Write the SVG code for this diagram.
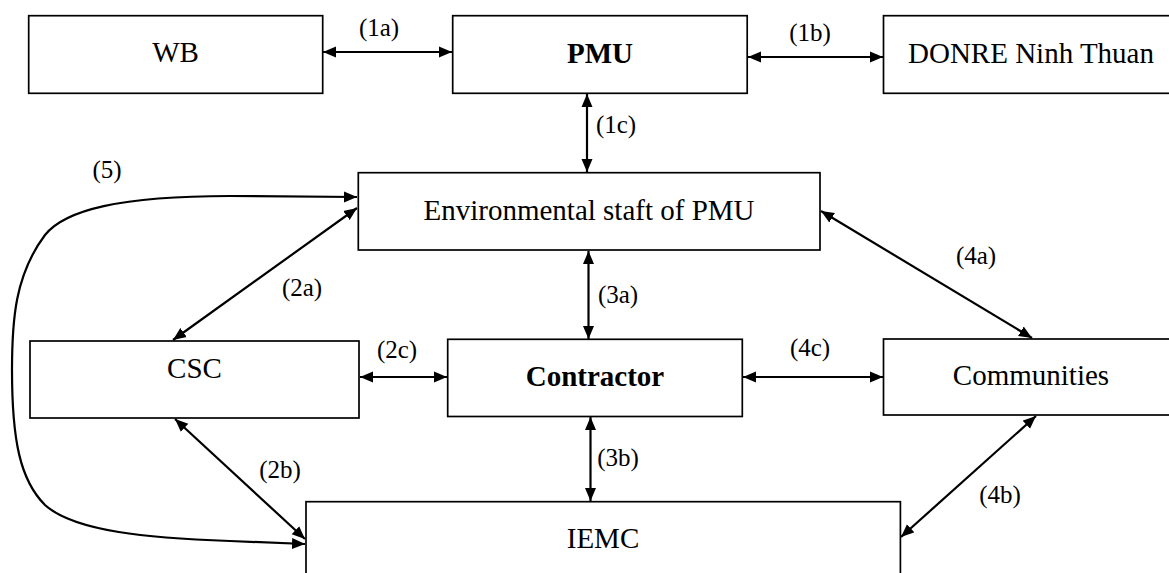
<svg xmlns="http://www.w3.org/2000/svg" width="1169" height="573" viewBox="0 0 1169 573">
<style>
.box{fill:#fff;stroke:#000;stroke-width:1.7}
text{font-family:'Liberation Serif','Times New Roman',serif;text-anchor:middle;fill:#000}
.t{font-size:29px}
.b{font-weight:bold}
.lbl{font-size:25px}
.c{fill:none;stroke:#000;stroke-width:2.2;marker-start:url(#ah);marker-end:url(#ah)}
</style>
<defs>
<marker id="ah" markerUnits="userSpaceOnUse" markerWidth="14" markerHeight="12" refX="13" refY="6" orient="auto-start-reverse" viewBox="0 0 14 12">
<path d="M0,0.5 L13,6 L0,11.5 z" fill="#000"/>
</marker>
</defs>
<rect width="1169" height="573" fill="#fff"/>
<g id="connectors">
<line class="c" x1="323" y1="52" x2="452" y2="52"/>
<line class="c" x1="748" y1="57" x2="883" y2="57"/>
<line class="c" x1="587" y1="94" x2="587" y2="172"/>
<line class="c" x1="588.5" y1="251" x2="588.5" y2="339"/>
<line class="c" x1="590.5" y1="417" x2="590.5" y2="501"/>
<line class="c" x1="360" y1="377" x2="447" y2="377"/>
<line class="c" x1="743" y1="377" x2="883" y2="377"/>
<line class="c" x1="357" y1="208" x2="173" y2="340"/>
<line class="c" x1="175" y1="419" x2="305" y2="539"/>
<line class="c" x1="821" y1="211" x2="1032" y2="338"/>
<line class="c" x1="1036" y1="416" x2="901" y2="537"/>
<path class="c" d="M 357,197 L 230,196 C 120,196 65,210 45,235 C 15,275 12,320 12,370 C 12,440 20,480 45,505 C 75,532 150,538 230,541 L 305,544"/>
<text class="lbl" x="379" y="36">(1a)</text>
<text class="lbl" x="810" y="41">(1b)</text>
<text class="lbl" x="616" y="133">(1c)</text>
<text class="lbl" x="107" y="178">(5)</text>
<text class="lbl" x="302" y="296">(2a)</text>
<text class="lbl" x="618" y="303">(3a)</text>
<text class="lbl" x="976" y="264">(4a)</text>
<text class="lbl" x="397" y="358">(2c)</text>
<text class="lbl" x="810" y="356">(4c)</text>
<text class="lbl" x="280" y="478">(2b)</text>
<text class="lbl" x="618" y="466">(3b)</text>
<text class="lbl" x="1000" y="503">(4b)</text>
</g>
<g id="wb"><rect class="box" x="28.7" y="15.7" width="294" height="77.6"/><text class="t" x="175.6" y="62.3">WB</text></g>
<g id="pmu"><rect class="box" x="452.7" y="15.7" width="294.5" height="77.6"/><text class="t b" x="600" y="63.3">PMU</text></g>
<g id="donre"><rect class="box" x="883.5" y="15.7" width="295" height="77.6"/><text class="t" x="1031" y="63.3">DONRE Ninh Thuan</text></g>
<g id="env"><rect class="box" x="358.3" y="172.7" width="461.7" height="77.3"/><text class="t" x="589" y="220">Environmental staft of PMU</text></g>
<g id="csc"><rect class="box" x="30" y="341" width="329" height="77"/><text class="t" x="194.5" y="378.3">CSC</text></g>
<g id="contractor"><rect class="box" x="447.7" y="339.3" width="294.6" height="77.2"/><text class="t b" x="595" y="386">Contractor</text></g>
<g id="communities"><rect class="box" x="883.5" y="339" width="295" height="76"/><text class="t" x="1031" y="385">Communities</text></g>
<g id="iemc"><rect class="box" x="306" y="501.7" width="594.4" height="77"/><text class="t" x="603" y="548">IEMC</text></g>
</svg>
